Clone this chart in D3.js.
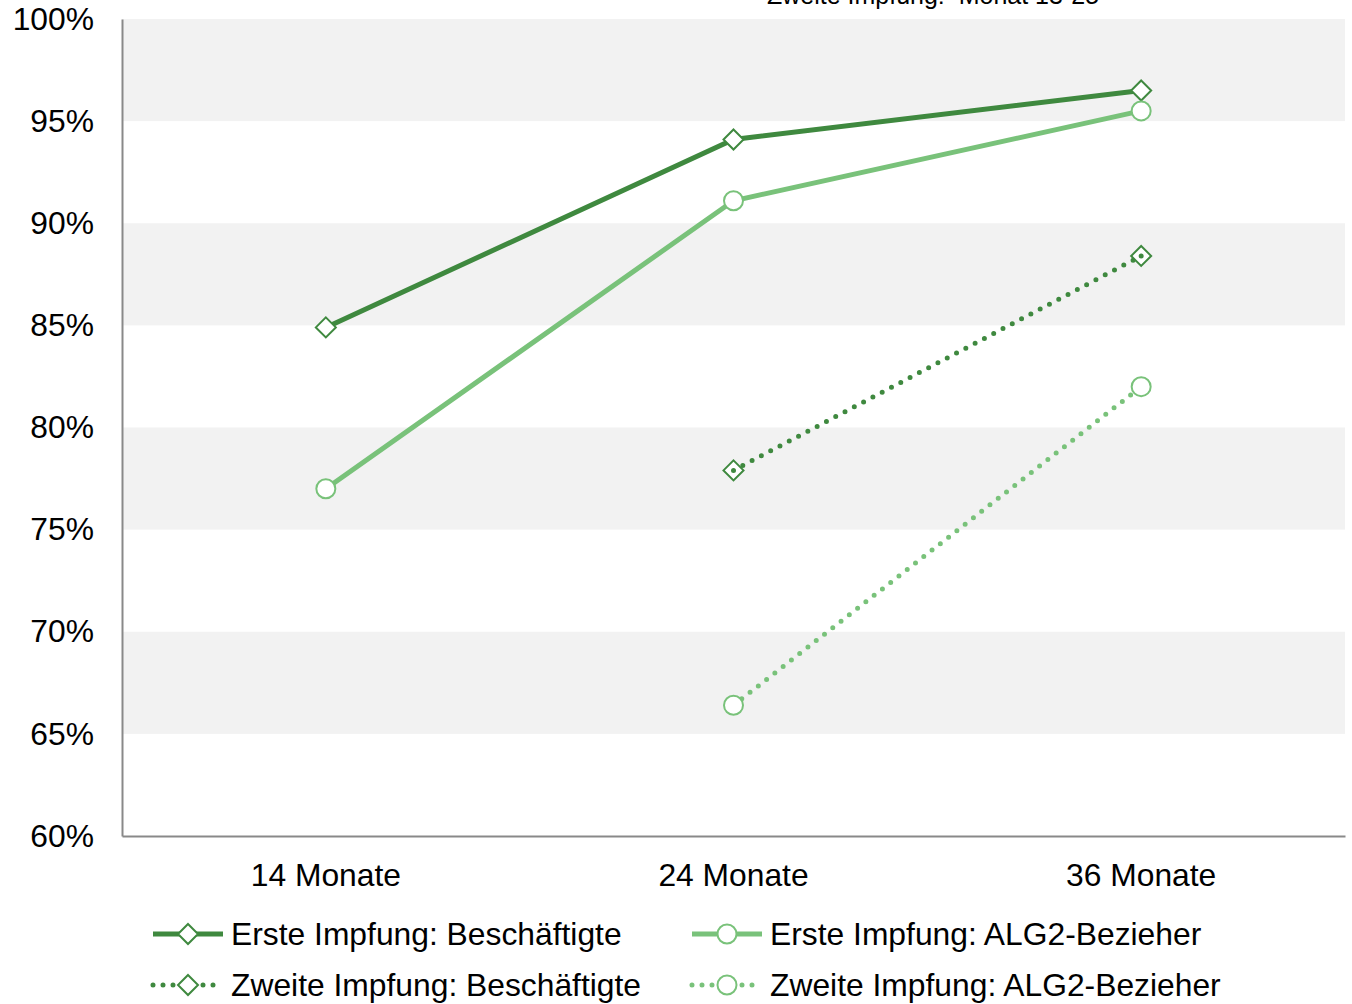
<!DOCTYPE html>
<html>
<head>
<meta charset="utf-8">
<script src="https://cdn.jsdelivr.net/npm/d3@7"></script>
<style>
  html, body { margin: 0; padding: 0; background: #fff; }
  svg { display: block; font-family: "Liberation Sans", Arial, sans-serif; }
</style>
</head>
<body>
<svg id="chart" width="1352" height="1004"></svg>
<script>
// Chart data
const categories = ["14 Monate", "24 Monate", "36 Monate"];
const yTicks = [0.60, 0.65, 0.70, 0.75, 0.80, 0.85, 0.90, 0.95, 1.00];
const seriesNames = [
  "Erste Impfung: Beschäftigte",
  "Erste Impfung: ALG2-Bezieher",
  "Zweite Impfung: Beschäftigte",
  "Zweite Impfung: ALG2-Bezieher"
];
const ersteBeschaeftigte = [0.849, 0.941, 0.965];
const ersteALG2 = [0.770, 0.911, 0.955];
const zweiteBeschaeftigte = [null, 0.779, 0.884];
const zweiteALG2 = [null, 0.664, 0.820];
const topNote = "Zweite Impfung:  Monat 13-25";

const dark = "#3f893f", light = "#79c27a";
const series = [
  { name: seriesNames[0], values: ersteBeschaeftigte, color: dark, dotted: false, marker: "diamond" },
  { name: seriesNames[1], values: ersteALG2, color: light, dotted: false, marker: "circle" },
  { name: seriesNames[2], values: zweiteBeschaeftigte, color: dark, dotted: true, marker: "diamond" },
  { name: seriesNames[3], values: zweiteALG2, color: light, dotted: true, marker: "circle" }
];

const fontSize = 31.8;
const svg = d3.select("#chart");
const plotLeft = 122, plotRight = 1345, plotTop = 19, plotBottom = 836;

const x = d3.scaleBand().domain(categories).range([plotLeft, plotRight]);
const y = d3.scaleLinear().domain([0.60, 1.00]).range([plotBottom, plotTop]);

// alternating background bands
const bands = yTicks.slice(0, -1).filter((d, i) => i % 2 === 1);
svg.append("g").selectAll("rect").data(bands).join("rect")
  .attr("x", plotLeft).attr("width", plotRight - plotLeft)
  .attr("y", d => y(d + 0.05)).attr("height", d => y(d) - y(d + 0.05))
  .attr("fill", "#f2f2f2");

// note at the top edge (partly outside the view)
svg.append("text").attr("x", 933).attr("y", 4)
  .attr("text-anchor", "middle").attr("font-size", 25).attr("fill", "#000")
  .style("white-space", "pre").text(topNote);

// y axis
const yAxis = svg.append("g").attr("transform", `translate(${plotLeft},0)`)
  .call(d3.axisLeft(y).tickValues(yTicks).tickFormat(d3.format(".0%")).tickSize(0).tickPadding(28));
yAxis.select(".domain").attr("stroke", "#898989").attr("stroke-width", 2);
yAxis.selectAll("text").attr("font-size", fontSize).attr("fill", "#000")
  .attr("font-family", "Liberation Sans, Arial, sans-serif");

// x axis
const xAxis = svg.append("g").attr("transform", `translate(0,${plotBottom})`)
  .call(d3.axisBottom(x).tickSize(0).tickPadding(27));
xAxis.select(".domain").attr("stroke", "#898989").attr("stroke-width", 2);
xAxis.selectAll("text").attr("font-size", fontSize).attr("fill", "#000")
  .attr("font-family", "Liberation Sans, Arial, sans-serif");

const cx = c => x(c) + x.bandwidth() / 2;

function drawMarker(g, type, color, px, py) {
  if (type === "diamond") {
    const s = 10;
    g.append("path")
      .attr("d", `M${px},${py - s}L${px + s},${py}L${px},${py + s}L${px - s},${py}Z`)
      .attr("fill", "#fff").attr("stroke", color).attr("stroke-width", 2);
  } else {
    g.append("circle").attr("cx", px).attr("cy", py).attr("r", 9.5)
      .attr("fill", "#fff").attr("stroke", color).attr("stroke-width", 2);
  }
}

// series lines and markers
series.forEach(s => {
  const pts = categories.map((c, i) => ({ c, v: s.values[i] })).filter(d => d.v != null);
  const line = d3.line().x(d => cx(d.c)).y(d => y(d.v));
  const g = svg.append("g");
  g.append("path").datum(pts).attr("d", line)
    .attr("fill", "none").attr("stroke", s.color)
    .attr("stroke-width", 5)
    .attr("stroke-linecap", s.dotted ? "round" : "butt")
    .attr("stroke-dasharray", s.dotted ? "0 10.5" : null);
  pts.forEach(d => {
    drawMarker(g, s.marker, s.color, cx(d.c), y(d.v));
    if (s.dotted && s.marker === "diamond") {
      g.append("circle").attr("cx", cx(d.c)).attr("cy", y(d.v)).attr("r", 2.5).attr("fill", s.color);
    }
  });
});

// legend
const legendPos = [
  { x: 153, y: 934 }, { x: 692, y: 934 },
  { x: 153, y: 985 }, { x: 692, y: 985 }
];
series.forEach((s, i) => {
  const p = legendPos[i];
  const g = svg.append("g");
  g.append("line").attr("x1", p.x).attr("x2", p.x + 70).attr("y1", p.y).attr("y2", p.y)
    .attr("stroke", s.color).attr("stroke-width", 5)
    .attr("stroke-linecap", s.dotted ? "round" : "butt")
    .attr("stroke-dasharray", s.dotted ? "0 10" : null);
  drawMarker(g, s.marker, s.color, p.x + 35, p.y);
  g.append("text").attr("x", p.x + 78).attr("y", p.y).attr("dy", "0.35em")
    .attr("font-size", fontSize).attr("fill", "#000").text(s.name);
});
</script>
</body>
</html>
